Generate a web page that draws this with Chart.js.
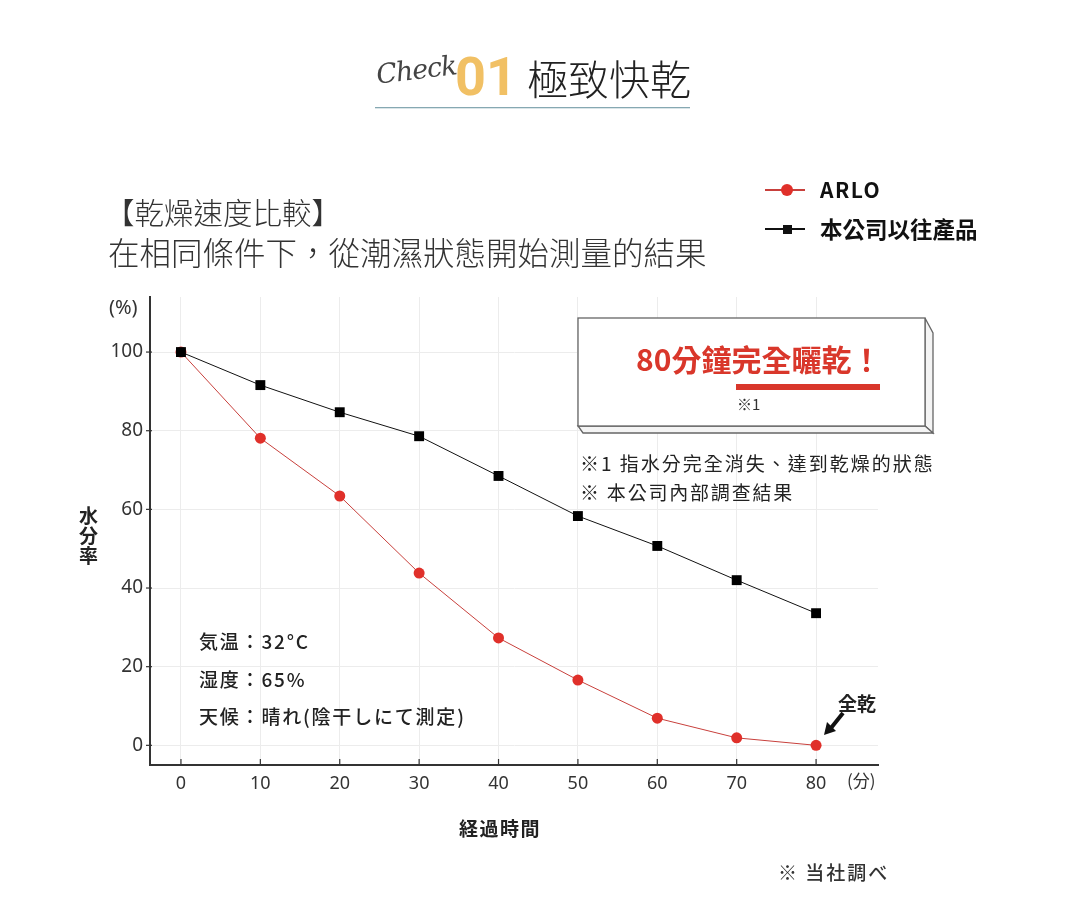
<!DOCTYPE html>
<html>
<head>
<meta charset="utf-8">
<script src="https://cdn.jsdelivr.net/npm/chart.js@4.4.1/dist/chart.umd.min.js"></script>
<style>
  html,body{margin:0;padding:0;background:#fff;}
  body{width:1065px;height:910px;position:relative;overflow:hidden;}
  #c{position:absolute;left:0;top:0;}
  .t{position:absolute;white-space:nowrap;line-height:1;color:#222;z-index:2;}
  .tc{font-family:"Noto Sans CJK TC","Noto Sans",sans-serif;}
  .jp{font-family:"Noto Sans CJK JP","Noto Sans",sans-serif;}
  svg{position:absolute;left:0;top:0;z-index:1;}
</style>
</head>
<body>
<canvas id="c" width="1065" height="910"></canvas>
<svg width="1065" height="910">
  <!-- callout box -->
  <polygon points="925,318 933,333 933,433 925,426" fill="#f4f4f4" stroke="#666" stroke-width="1.3"/>
  <polygon points="578,426 925,426 933,433 583,433" fill="#f4f4f4" stroke="#666" stroke-width="1.3"/>
  <rect x="578" y="318" width="347" height="108" fill="#fff" stroke="#666" stroke-width="1.3"/>
  <rect x="736" y="384" width="144" height="6" fill="#d9372b"/>
  <!-- title underline -->
  <rect x="375" y="107" width="315" height="1.3" fill="#86a8b2"/>
  <!-- arrow -->
  <line x1="843" y1="713" x2="831" y2="728" stroke="#111" stroke-width="4"/>
  <polygon points="824,735 836,731 827,722" fill="#111"/>
</svg>

<div class="t" style="left:376px;top:56px;font-family:'DejaVu Serif',serif;font-style:italic;font-size:27px;font-weight:300;color:#444;transform:rotate(-7deg);letter-spacing:-1px;">Check</div>
<div class="t" style="left:455px;top:50px;font-family:Roboto,'Noto Sans',sans-serif;font-weight:700;font-size:54px;color:#f1c064;">01</div>
<div class="t tc" style="left:527px;top:57px;font-size:41px;font-weight:300;color:#222;">極致快乾</div>

<div class="t tc" style="left:105px;top:197px;font-size:29.5px;font-weight:300;color:#333;">【乾燥速度比較】</div>
<div class="t tc" style="left:108px;top:236px;font-size:31.5px;font-weight:300;color:#333;">在相同條件下，從潮濕狀態開始測量的結果</div>

<div id="legend"></div>

<div class="t tc" style="left:636px;top:343px;font-size:30px;font-weight:700;color:#d9372b;">80分鐘完全曬乾！</div>
<div class="t tc" style="left:737px;top:396px;font-size:15px;color:#333;">※1</div>
<div class="t tc" style="left:580px;top:453px;font-size:19px;color:#222;letter-spacing:2px;">※1 指水分完全消失、達到乾燥的狀態</div>
<div class="t tc" style="left:580px;top:482px;font-size:19px;color:#222;letter-spacing:1.8px;">※ 本公司內部調查結果</div>

<div class="t jp" style="left:199px;top:631px;font-size:19px;font-weight:500;letter-spacing:1.8px;">気温：32°C</div>
<div class="t jp" style="left:199px;top:669px;font-size:19px;font-weight:500;letter-spacing:1.8px;">湿度：65%</div>
<div class="t jp" style="left:199px;top:706px;font-size:19px;font-weight:500;letter-spacing:1.8px;">天候：晴れ(陰干しにて測定)</div>
<div class="t jp" style="left:838px;top:693px;font-size:19px;font-weight:700;">全乾</div>

<div class="t jp" style="left:79px;top:505px;font-size:19px;font-weight:700;line-height:20px;width:20px;white-space:normal;">水<br>分<br>率</div>
<div class="t" style="left:109px;top:297px;font-family:'Noto Sans',sans-serif;font-size:20px;color:#333;">(%)</div>
<div class="t jp" style="left:847px;top:771px;font-size:17px;color:#333;">(分)</div>
<div class="t jp" style="left:459px;top:818px;font-size:19px;font-weight:700;letter-spacing:1.5px;">経過時間</div>
<div class="t jp" style="left:778px;top:862px;font-size:19px;font-weight:500;color:#333;letter-spacing:2px;">※ 当社調べ</div>

<script>
const minutes = [0, 10, 20, 30, 40, 50, 60, 70, 80];
const arloValues = [100, 78.1, 63.4, 43.8, 27.3, 16.6, 6.9, 1.9, 0];
const oldValues = [100, 91.6, 84.7, 78.6, 68.5, 58.3, 50.7, 42.0, 33.6];
const seriesNames = ["ARLO", "本公司以往產品"];
const yTickValues = [0, 20, 40, 60, 80, 100];
const xTickValues = [0, 10, 20, 30, 40, 50, 60, 70, 80];

const RED = "#e0302a", RED_LINE = "#c8403c", BLACK = "#111";

// HTML legend built from series names
(function(){
  const lg = document.getElementById('legend');
  const rows = [
    {name: seriesNames[0], y: 190, color: RED, line: RED_LINE, shape: 'circle', fs: 21, top: 179},
    {name: seriesNames[1], y: 229, color: BLACK, line: BLACK, shape: 'square', fs: 22.5, top: 217}
  ];
  rows.forEach(r => {
    const ln = document.createElement('div');
    ln.style.cssText = `position:absolute;left:765px;top:${r.y-0.6}px;width:40px;height:1.3px;background:${r.line};z-index:2;`;
    lg.appendChild(ln);
    const mk = document.createElement('div');
    const s = r.shape === 'circle' ? 12 : 9;
    mk.style.cssText = `position:absolute;left:${787-s/2}px;top:${r.y-s/2}px;width:${s}px;height:${s}px;background:${r.color};border-radius:${r.shape==='circle'?'50%':'0'};z-index:2;`;
    lg.appendChild(mk);
    const tx = document.createElement('div');
    tx.className = 't tc';
    tx.textContent = r.name;
    tx.style.cssText += `left:820px;top:${r.top}px;font-size:${r.fs}px;font-weight:700;color:#111;letter-spacing:${r.shape==='circle'?1.5:0}px;`;
    lg.appendChild(tx);
  });
})();

const innerTicks = {
  id: 'innerTicks',
  afterDatasetsDraw(chart){
    const {ctx, scales:{x, y}, chartArea} = chart;
    ctx.save();
    ctx.strokeStyle = '#333';
    ctx.lineWidth = 1.2;
    xTickValues.forEach(v => {
      const px = x.getPixelForValue(v);
      ctx.beginPath(); ctx.moveTo(px, chartArea.bottom); ctx.lineTo(px, chartArea.bottom - 6); ctx.stroke();
    });
    yTickValues.forEach(v => {
      const py = y.getPixelForValue(v);
      ctx.beginPath(); ctx.moveTo(chartArea.left - 4, py); ctx.lineTo(chartArea.left + 2, py); ctx.stroke();
    });
    ctx.restore();
  }
};

new Chart(document.getElementById('c'), {
  type: 'line',
  data: {
    datasets: [
      {
        label: seriesNames[0],
        data: minutes.map((m, i) => ({x: m, y: arloValues[i]})),
        borderColor: RED_LINE,
        borderWidth: 1,
        pointBackgroundColor: RED,
        pointBorderColor: RED,
        pointBorderWidth: 0,
        pointRadius: 5.5,
        pointStyle: 'circle',
        tension: 0,
        order: 2
      },
      {
        label: seriesNames[1],
        data: minutes.map((m, i) => ({x: m, y: oldValues[i]})),
        borderColor: BLACK,
        borderWidth: 1,
        pointBackgroundColor: '#000',
        pointBorderColor: '#000',
        pointBorderWidth: 0,
        pointRadius: 7,
        pointStyle: 'rect',
        tension: 0,
        order: 1
      }
    ]
  },
  options: {
    responsive: false,
    animation: false,
    devicePixelRatio: 1,
    layout: {padding: {left: 0, top: 297, right: 187, bottom: 0}},
    plugins: {legend: {display: false}, tooltip: {enabled: false}},
    scales: {
      x: {
        type: 'linear',
        min: -3.9,
        max: 87.8,
        afterBuildTicks(s){ s.ticks = xTickValues.map(v => ({value: v})); },
        afterFit(s){ s.height = 145; },
        grid: {color: '#ececec', lineWidth: 1, drawTicks: false},
        border: {color: '#333', width: 2},
        ticks: {
          padding: 8,
          color: '#333',
          font: {family: "'Liberation Sans Narrow','Noto Sans',sans-serif", size: 18},
          maxRotation: 0,
          autoSkip: false
        }
      },
      y: {
        type: 'linear',
        min: -5,
        max: 114,
        afterBuildTicks(s){ s.ticks = yTickValues.map(v => ({value: v})); },
        afterFit(s){ s.width = 150; },
        grid: {color: '#ececec', lineWidth: 1, drawTicks: false},
        border: {color: '#333', width: 2},
        ticks: {
          padding: 7,
          color: '#333',
          font: {family: "'Noto Sans',sans-serif", size: 19},
          autoSkip: false
        }
      }
    }
  },
  plugins: [innerTicks]
});
</script>
</body>
</html>
